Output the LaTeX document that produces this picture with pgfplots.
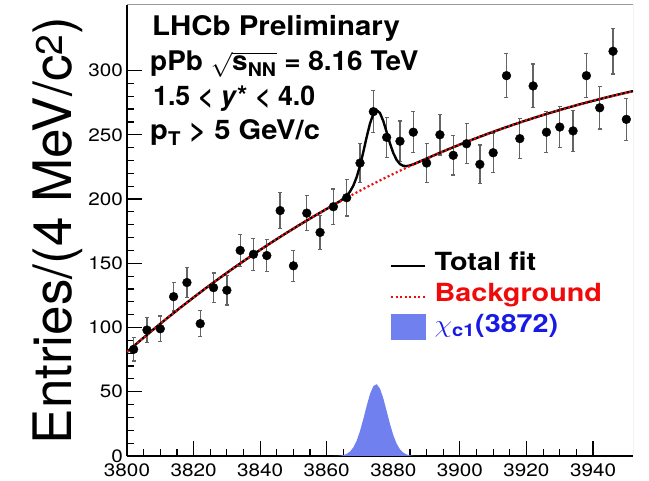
\documentclass[border=0pt]{standalone}
\usepackage{fontspec}
\setmainfont{TeX Gyre Heros}
\usepackage{amsmath}
\usepackage{graphicx}
\usepackage{pgfplots}
\usepackage{pgfplotstable}
\pgfplotsset{compat=1.18}

\definecolor{sigblue}{RGB}{112,128,238}
\definecolor{bkgred}{RGB}{240,10,10}
\definecolor{txtblue}{RGB}{25,25,230}
\definecolor{errgray}{RGB}{100,100,100}

% m(D0 D0bar pi) candidates, 4 MeV bins: centre, entries, sqrt(N)
\pgfplotstableread{
x     y    e
3802  83   9.1
3806  98   9.9
3810  99   9.9
3814  124  11.1
3818  135  11.6
3822  103  10.1
3826  131  11.4
3830  129  11.4
3834  160  12.6
3838  157  12.5
3842  156  12.5
3846  191  13.8
3850  148  12.2
3854  189  13.7
3858  174  13.2
3862  194  13.9
3866  201  14.2
3870  228  15.1
3874  268  16.4
3878  248  15.7
3882  245  15.7
3886  252  15.9
3890  228  15.1
3894  250  15.8
3898  234  15.3
3902  243  15.6
3906  227  15.1
3910  236  15.4
3914  296  17.2
3918  247  15.7
3922  288  17.0
3926  252  15.9
3930  256  16.0
3934  253  15.9
3938  296  17.2
3942  271  16.5
3946  315  17.7
3950  262  16.2
}\datatable

% background component of the fit
\pgfplotstableread{
x     y
3800  81.00
3804  89.93
3808  98.64
3812  107.12
3816  115.38
3820  123.41
3824  131.23
3828  138.84
3832  146.24
3836  153.43
3840  160.41
3844  167.19
3848  173.77
3852  180.15
3856  186.34
3860  192.34
3864  198.15
3868  203.77
3872  209.21
3876  214.47
3880  219.56
3884  224.46
3888  229.20
3892  233.77
3896  238.17
3900  242.41
3904  246.49
3908  250.41
3912  254.18
3916  257.79
3920  261.26
3924  264.58
3928  267.75
3932  270.79
3936  273.69
3940  276.45
3944  279.08
3948  281.58
3952  283.96
}\bkgtable

% total fit (signal + background)
\pgfplotstableread{
x     y
3800  81.00
3804  89.93
3808  98.64
3812  107.12
3816  115.38
3820  123.41
3824  131.23
3828  138.84
3832  146.24
3836  153.43
3840  160.41
3844  167.19
3848  173.77
3852  180.15
3856  186.34
3860  192.34
3861  193.82
3862  195.30
3863  196.80
3864  198.41
3865  200.25
3866  202.58
3867  205.81
3868  210.47
3869  217.10
3870  225.95
3871  236.73
3872  248.28
3873  258.80
3874  266.24
3875  269.07
3876  266.89
3877  260.60
3878  252.04
3879  243.22
3880  235.74
3881  230.39
3882  227.21
3883  225.80
3884  225.61
3885  226.13
3886  227.03
3887  228.09
3888  229.22
3892  233.77
3896  238.17
3900  242.41
3904  246.49
3908  250.41
3912  254.18
3916  257.79
3920  261.26
3924  264.58
3928  267.75
3932  270.79
3936  273.69
3940  276.45
3944  279.08
3948  281.58
3952  283.96
}\totaltable

% chi_c1(3872) signal component
\pgfplotstableread{
x     y
3862  0.03
3863  0.09
3864  0.26
3865  0.68
3866  1.60
3867  3.43
3868  6.70
3869  11.95
3870  19.44
3871  28.86
3872  39.07
3873  48.26
3874  54.38
3875  55.90
3876  52.42
3877  44.84
3878  35.00
3879  24.92
3880  16.18
3881  9.59
3882  5.18
3883  2.55
3884  1.15
3885  0.47
3886  0.18
3887  0.06
3888  0.02
}\sigtable

\newcommand{\wide}[1]{\scalebox{1.15}[1]{#1}}

\begin{document}
\begin{tikzpicture}[x=1pt,y=1pt]
\path[use as bounding box] (0,0) rectangle (649,481);
\begin{axis}[
  at={(127pt,25pt)}, anchor=south west,
  scale only axis, width=506pt, height=451pt,
  xmin=3800, xmax=3952, ymin=0, ymax=351,
  axis x line*=bottom, axis y line*=left,
  axis line style={black, line width=1.3pt, -},
  tick align=inside,
  major tick length=15pt, minor tick length=7pt,
  xtick={3800,3820,...,3940}, ytick={0,50,...,300},
  minor x tick num=3, minor y tick num=4,
  every tick/.style={black, line width=1.2pt},
  tick label style={font=\fontsize{18}{18}\selectfont, xscale=1.15},
  xticklabel style={yshift=-4pt},
  /pgf/number format/assume math mode=true,
  /pgf/number format/1000 sep={},
  ylabel={Entries/(4 MeV/c\textsuperscript{2})},
  ylabel style={font=\fontsize{53}{53}\selectfont, at={(rel axis cs:0,0.5)}, anchor=base, yshift=55pt},
  legend style={draw=none, fill=none, at={(rel axis cs:0.514,0.461)}, anchor=north west,
    font=\fontsize{25}{30}\selectfont\bfseries, legend cell align=left,
    nodes={inner sep=1pt, text height=19pt, text depth=10pt},
    /tikz/every odd column/.append style={column sep=7pt}},
]
\addlegendimage{legend image code/.code={\draw[black, line width=2.4pt] (0pt,0pt) -- (34pt,0pt);}}
\addlegendentry{\wide{Total fit}}
\addlegendimage{legend image code/.code={\draw[bkgred, line width=2.2pt, dash pattern=on 2pt off 2.5pt] (0pt,0pt) -- (34pt,0pt);}}
\addlegendentry{\wide{\textcolor{bkgred}{Background}}}
\addlegendimage{legend image code/.code={\fill[sigblue] (0pt,-11pt) rectangle (34pt,14pt);}}
\addlegendentry{\wide{\textcolor{txtblue}{$\chi_{\textbf{c1}}$(3872)}}}

% signal component
\addplot[draw=none, fill=sigblue, forget plot] table[x=x,y=y] {\sigtable} \closedcycle;
% data: error bars, then points
\addplot[only marks, mark=none, forget plot,
  error bars/.cd, y dir=both, y explicit,
  error bar style={errgray, line width=1.3pt},
  error mark options={errgray, line width=1.3pt, mark size=2pt, rotate=90}]
  table[x=x, y=y, y error=e] {\datatable};
\addplot[only marks, mark=*, mark size=4.4pt, black, forget plot] table[x=x,y=y] {\datatable};
% fit curves
\addplot[black, line width=2.4pt, forget plot] table[x=x,y=y] {\totaltable};
\addplot[bkgred, line width=2.2pt, dash pattern=on 2pt off 2.5pt, forget plot] table[x=x,y=y] {\bkgtable};

\draw[gray!80, line width=1pt] (rel axis cs:0,1) -- (rel axis cs:1,1) -- (rel axis cs:1,0);
\end{axis}

\begin{scope}[every node/.style={anchor=base west, inner sep=0pt, font=\fontsize{27}{27}\selectfont\bfseries}]
\node[xscale=1.09] at (152,445) {LHCb Preliminary};
\node[xscale=1.035] at (150,410) {pPb $\sqrt{\textbf{s}_{\textbf{NN}}}$ = 8.16 TeV};
\node[xscale=0.99] at (153,375) {1.5 < \textit{y}* < 4.0};
\node[xscale=1.08] at (150,341) {p$_{\textbf{T}}$ > 5 GeV/c};
\end{scope}
\end{tikzpicture}
\end{document}
